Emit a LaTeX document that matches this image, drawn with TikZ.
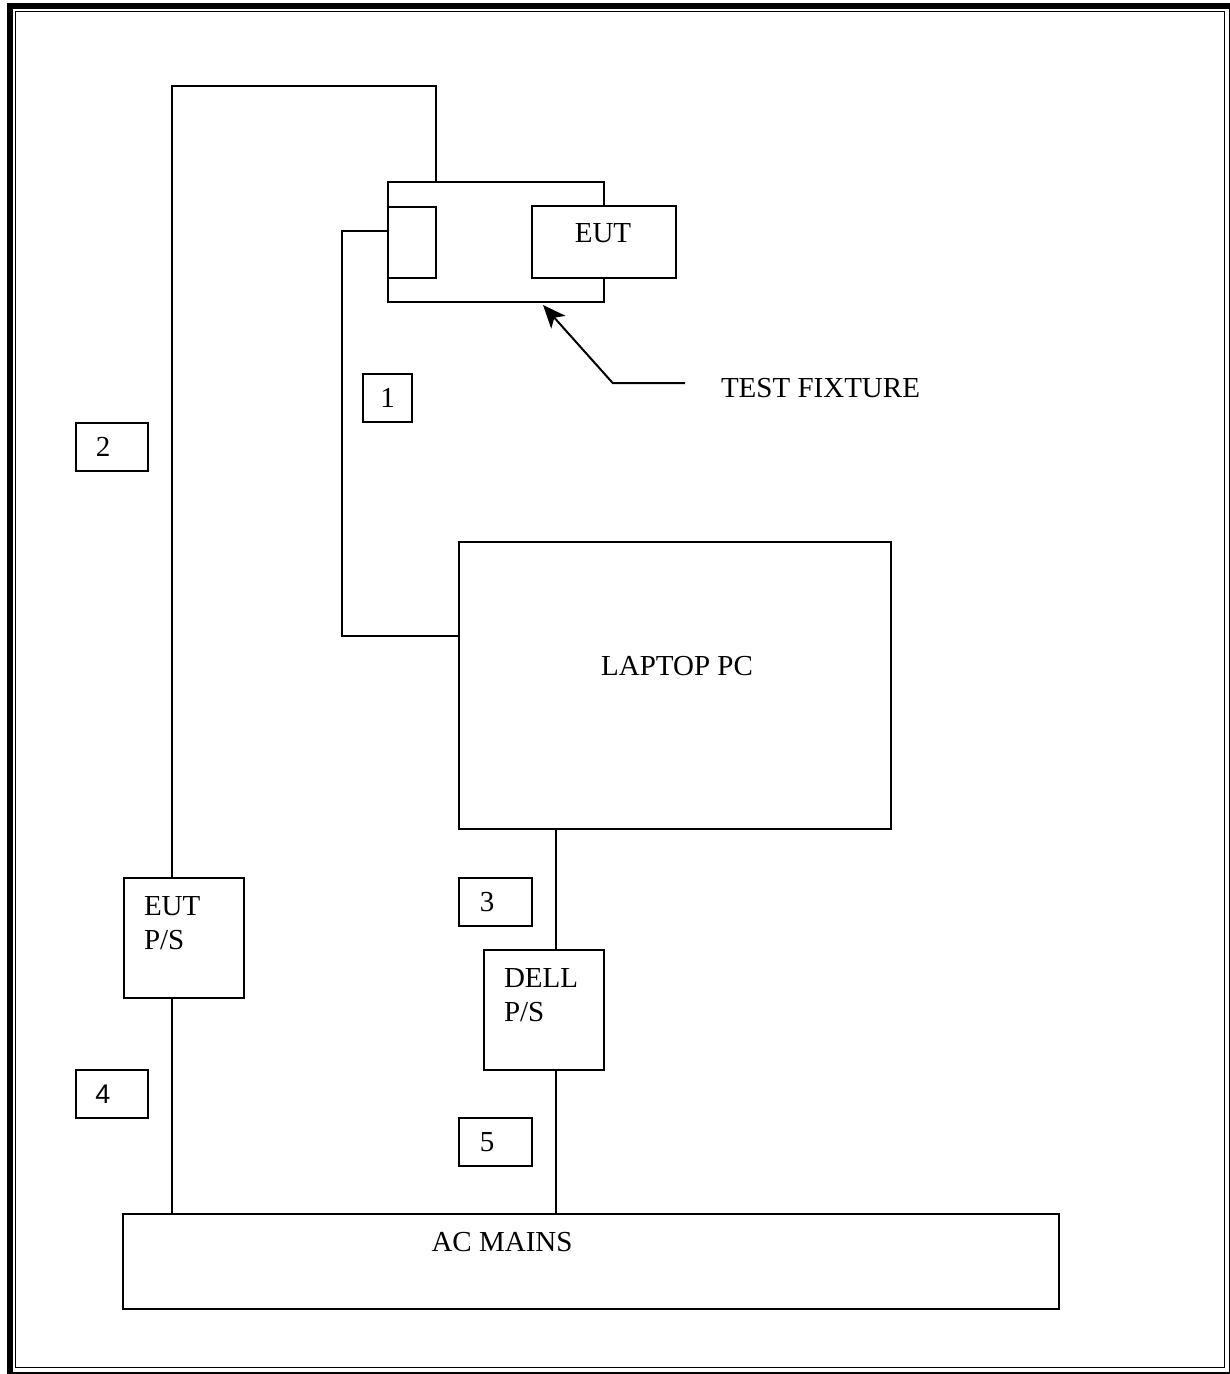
\documentclass[tikz,border=0pt]{standalone}
\usepackage{fontspec}
\setmainfont{Liberation Serif}
\newfontfamily\digsans{Liberation Sans}
\usetikzlibrary{arrows.meta}
\begin{document}
\begin{tikzpicture}[x=1pt,y=-1pt, line width=2pt,
  box/.style={draw, rectangle, inner sep=0pt, line width=2pt},
  lbl/.style={inner sep=0pt, font=\fontsize{29}{34}\selectfont},
  arr/.style={-{Stealth[length=23pt,width=19pt,inset=6pt]}}]
\useasboundingbox (0,0) rectangle (1230,1374);
% page border
\draw[line width=6pt] (10,6) rectangle (1231.5,1374.5);
\draw[line width=1.6pt] (15.5,11.5) rectangle (1224.5,1367.5);

% test fixture and EUT
\node[box, minimum width=216pt, minimum height=120pt] (fix) at (496,242) {};
\node[box, minimum width=48pt, minimum height=71pt] (port) at (412,242.5) {};
\node[box, fill=white, minimum width=144pt, minimum height=72pt] (eut) at (604,242) {};
\node[lbl, anchor=base] (eutT) at (603,242.5) {EUT};

% laptop
\node[box, minimum width=432pt, minimum height=287pt] (laptop) at (675,685.5) {};
\node[lbl, anchor=base] (laptopT) at (677,675) {LAPTOP PC};

% power supplies
\node[box, minimum width=120pt, minimum height=120pt] (eutps) at (184,937.7) {};
\node[lbl, anchor=base west] (eutpsA) at (143,915) {EUT};
\node[lbl, anchor=base west] (eutpsB) at (143,949) {P/S};
\node[box, minimum width=120pt, minimum height=120pt] (dell) at (544,1010) {};
\node[lbl, anchor=base west] (dellA) at (503,987) {DELL};
\node[lbl, anchor=base west] (dellB) at (503,1021) {P/S};

% AC mains
\node[box, minimum width=936pt, minimum height=95pt] (ac) at (591,1261.5) {};
\node[lbl, anchor=base] (acT) at (502,1251) {AC MAINS};

% test fixture label
\node[lbl, anchor=base west] (tfx) at (720,397) {TEST FIXTURE};

% number boxes
\node[box, minimum width=49pt, minimum height=48pt] (n1) at (387.5,398) {};
\node[lbl] (n1T) at (387.5,398) {1};
\node[box, minimum width=72pt, minimum height=48pt] (n2) at (112,446.5) {};
\node[lbl] (n2T) at (103,446.5) {2};
\node[box, minimum width=73pt, minimum height=48pt] (n3) at (495.5,902) {};
\node[lbl] (n3T) at (487,902) {3};
\node[box, minimum width=72pt, minimum height=48pt] (n4) at (112,1094) {};
\node[lbl, font=\digsans\fontsize{27}{32}\selectfont] (n4T) at (103,1094) {4};
\node[box, minimum width=73pt, minimum height=48pt] (n5) at (495.5,1142) {};
\node[lbl] (n5T) at (487,1142) {5};

% connectors
\coordinate (topL) at (172,86);
\draw ([xshift=-60.3pt]fix.north) |- (topL) -- ([xshift=-12pt]eutps.north);

\coordinate (w1) at (341.5,231);
\draw ([yshift=11.5pt]port.west) -- (w1) |- ([yshift=49.5pt]laptop.west);

\coordinate (d1) at ([xshift=12pt]dell.north);
\draw (d1) -- (d1 |- laptop.south);
\coordinate (d2) at ([xshift=12pt]dell.south);
\draw (d2) -- (d2 |- ac.north);
\coordinate (e2) at ([xshift=-12pt]eutps.south);
\draw (e2) -- (e2 |- ac.north);

\coordinate (tfx0) at (685,383);
\coordinate (elb) at (612.7,383);
\draw[arr] (tfx0) -- (elb) -- ([xshift=47pt,yshift=-2pt]fix.south);
\end{tikzpicture}
\end{document}
